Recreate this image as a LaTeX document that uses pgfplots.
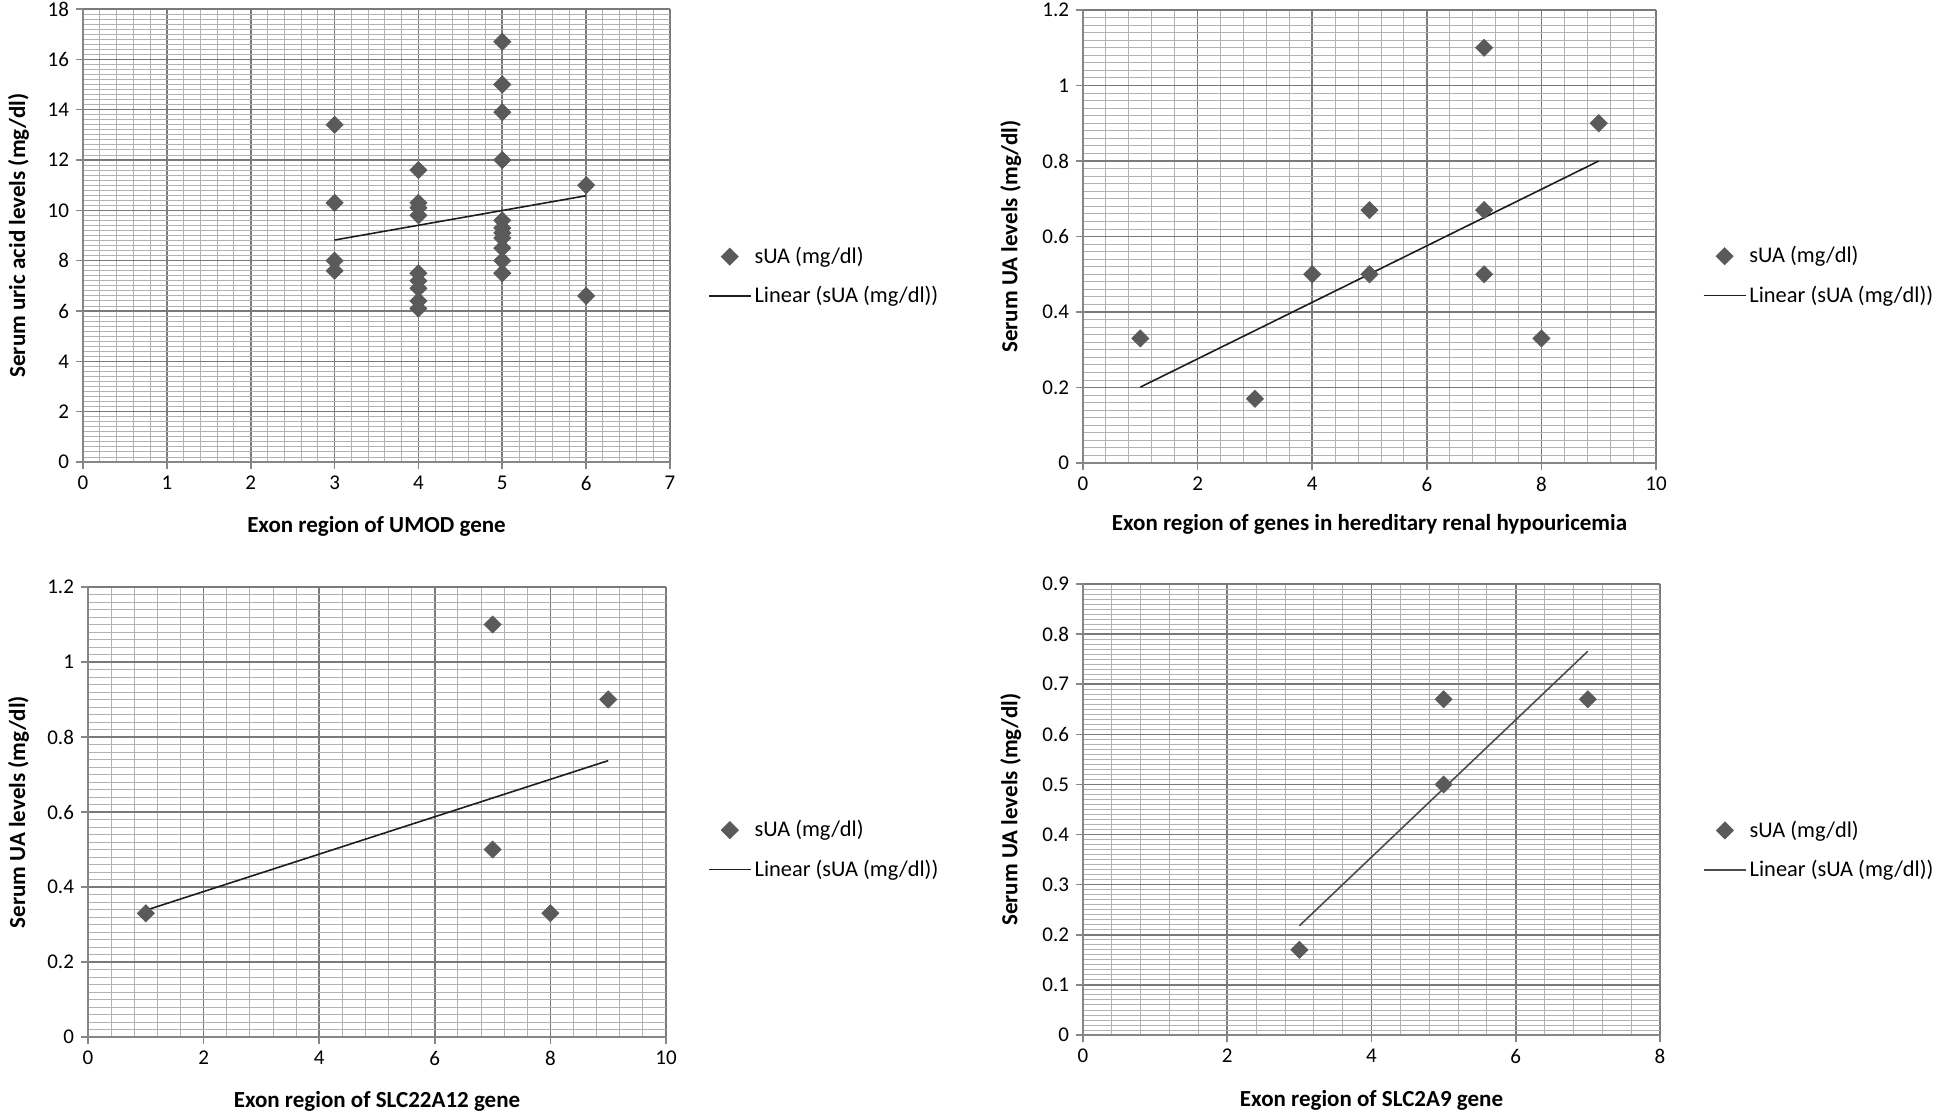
\documentclass[border=0pt]{standalone}
\usepackage{fontspec}
\setmainfont{Carlito}
\usepackage{pgfplots}
\pgfplotsset{compat=1.18}
\definecolor{majgrid}{HTML}{7A7A7A}
\definecolor{mingrid}{HTML}{B2B2B2}
\definecolor{axgray}{HTML}{868686}
\definecolor{markgray}{HTML}{5A5A5A}
\definecolor{trendblk}{HTML}{1E1E1E}

\pgfplotsset{
  exonpanel/.style={
    scale only axis,
    anchor=south west,
    axis lines*=left,
    axis line style={draw=axgray, line width=0.8pt},
    tick align=outside,
    major tick length=3.5pt,
    minor tick length=0pt,
    tick style={draw=axgray, line width=0.8pt},
    grid=both,
    major grid style={draw=majgrid, line width=0.8pt},
    minor grid style={draw=mingrid, line width=0.45pt},
    /pgf/number format/assume math mode=true,
    ticklabel style={font=\fontsize{10.5}{12}\selectfont},
    label style={font=\fontsize{11.5}{13}\selectfont\bfseries},
    legend style={draw=none, fill=none, anchor=west, inner sep=0pt,
      nodes={inner sep=1.5pt},
      font=\fontsize{11.2}{13}\selectfont, row sep=7pt},
    legend cell align=left,
  },
  suamark/.style={only marks, mark=square*, mark size=3pt,
    mark options={rotate=45, fill=markgray, draw=markgray},
    legend image code/.code={\draw[##1, mark repeat=1] plot coordinates {(10.5pt,0pt)};}},
  trend/.style={no marks, draw=trendblk, line width=0.8pt,
    legend image code/.code={\draw[##1] (0pt,0pt) -- (21pt,0pt);}},
}

\begin{document}
\begin{tikzpicture}
\useasboundingbox (0,0) rectangle (973pt,558pt);

% top left: UMOD
\begin{axis}[exonpanel,
  at={(41.5pt,327pt)}, width=293.5pt, height=226.5pt,
  xmin=0, xmax=7, ymin=0, ymax=18,
  xtick={0,1,...,7}, ytick={0,2,...,18},
  minor x tick num=4, minor y tick num=9,
  xlabel={Exon region of UMOD gene},
  ylabel={Serum uric acid levels (mg/dl)},
  xlabel style={at={(axis description cs:0.5,-0.141)}, anchor=center},
  ylabel style={at={(axis description cs:-0.11,0.5)}, anchor=center},
  legend style={at={(1.064,0.41)}},
]
\addplot[suamark] coordinates {
  (3,13.4) (3,10.3) (3,8.0) (3,7.6)
  (4,11.6) (4,10.3) (4,10.1) (4,9.8) (4,7.5) (4,7.2) (4,6.9) (4,6.4) (4,6.1)
  (5,16.7) (5,15.0) (5,13.9) (5,12.0) (5,9.6) (5,9.3) (5,9.1) (5,8.9) (5,8.5) (5,8.0) (5,7.5)
  (6,11.0) (6,6.6)
};
\addlegendentry{sUA (mg/dl)}
\addplot[trend] coordinates {(3,8.82) (6,10.58)};
\addlegendentry{Linear (sUA (mg/dl))}
\end{axis}

% top right: hereditary renal hypouricemia
\begin{axis}[exonpanel,
  at={(541.5pt,326.5pt)}, width=286.5pt, height=226.5pt,
  xmin=0, xmax=10, ymin=0, ymax=1.2,
  xtick={0,2,4,6,8,10}, ytick={0,0.2,0.4,0.6,0.8,1,1.2},
  minor x tick num=4, minor y tick num=9,
  xlabel={Exon region of genes in hereditary renal hypouricemia},
  ylabel={Serum UA levels (mg/dl)},
  xlabel style={at={(axis description cs:0.5,-0.136)}, anchor=center},
  ylabel style={at={(axis description cs:-0.126,0.5)}, anchor=center},
  legend style={at={(1.081,0.413)}},
]
\addplot[suamark] coordinates {
  (1,0.33) (3,0.17) (4,0.5) (5,0.67) (5,0.5)
  (7,1.1) (7,0.67) (7,0.5) (8,0.33) (9,0.9)
};
\addlegendentry{sUA (mg/dl)}
\addplot[trend] coordinates {(1,0.201) (9,0.80)};
\addlegendentry{Linear (sUA (mg/dl))}
\end{axis}

% bottom left: SLC22A12
\begin{axis}[exonpanel,
  at={(44pt,39.5pt)}, width=289pt, height=225pt,
  xmin=0, xmax=10, ymin=0, ymax=1.2,
  xtick={0,2,4,6,8,10}, ytick={0,0.2,0.4,0.6,0.8,1,1.2},
  minor x tick num=4, minor y tick num=9,
  xlabel={Exon region of SLC22A12 gene},
  ylabel={Serum UA levels (mg/dl)},
  xlabel style={at={(axis description cs:0.5,-0.144)}, anchor=center},
  ylabel style={at={(axis description cs:-0.12,0.5)}, anchor=center},
  legend style={at={(1.072,0.416)}},
]
\addplot[suamark] coordinates {
  (1,0.33) (7,1.1) (7,0.5) (8,0.33) (9,0.9)
};
\addlegendentry{sUA (mg/dl)}
\addplot[trend] coordinates {(1,0.338) (9,0.737)};
\addlegendentry{Linear (sUA (mg/dl))}
\end{axis}

% bottom right: SLC2A9
\begin{axis}[exonpanel,
  at={(541.5pt,40.5pt)}, width=288.5pt, height=225.5pt,
  xmin=0, xmax=8, ymin=0, ymax=0.9,
  xtick={0,2,4,6,8}, ytick={0,0.1,0.2,0.3,0.4,0.5,0.6,0.7,0.8,0.9},
  minor x tick num=4, minor y tick num=9,
  xlabel={Exon region of SLC2A9 gene},
  ylabel={Serum UA levels (mg/dl)},
  xlabel style={at={(axis description cs:0.5,-0.144)}, anchor=center},
  ylabel style={at={(axis description cs:-0.125,0.5)}, anchor=center},
  legend style={at={(1.074,0.41)}},
]
\addplot[suamark] coordinates {
  (3,0.17) (5,0.67) (5,0.5) (7,0.67)
};
\addlegendentry{sUA (mg/dl)}
\addplot[trend, draw=black!70] coordinates {(3,0.218) (7,0.766)};
\addlegendentry{Linear (sUA (mg/dl))}
\end{axis}
\end{tikzpicture}
\end{document}
